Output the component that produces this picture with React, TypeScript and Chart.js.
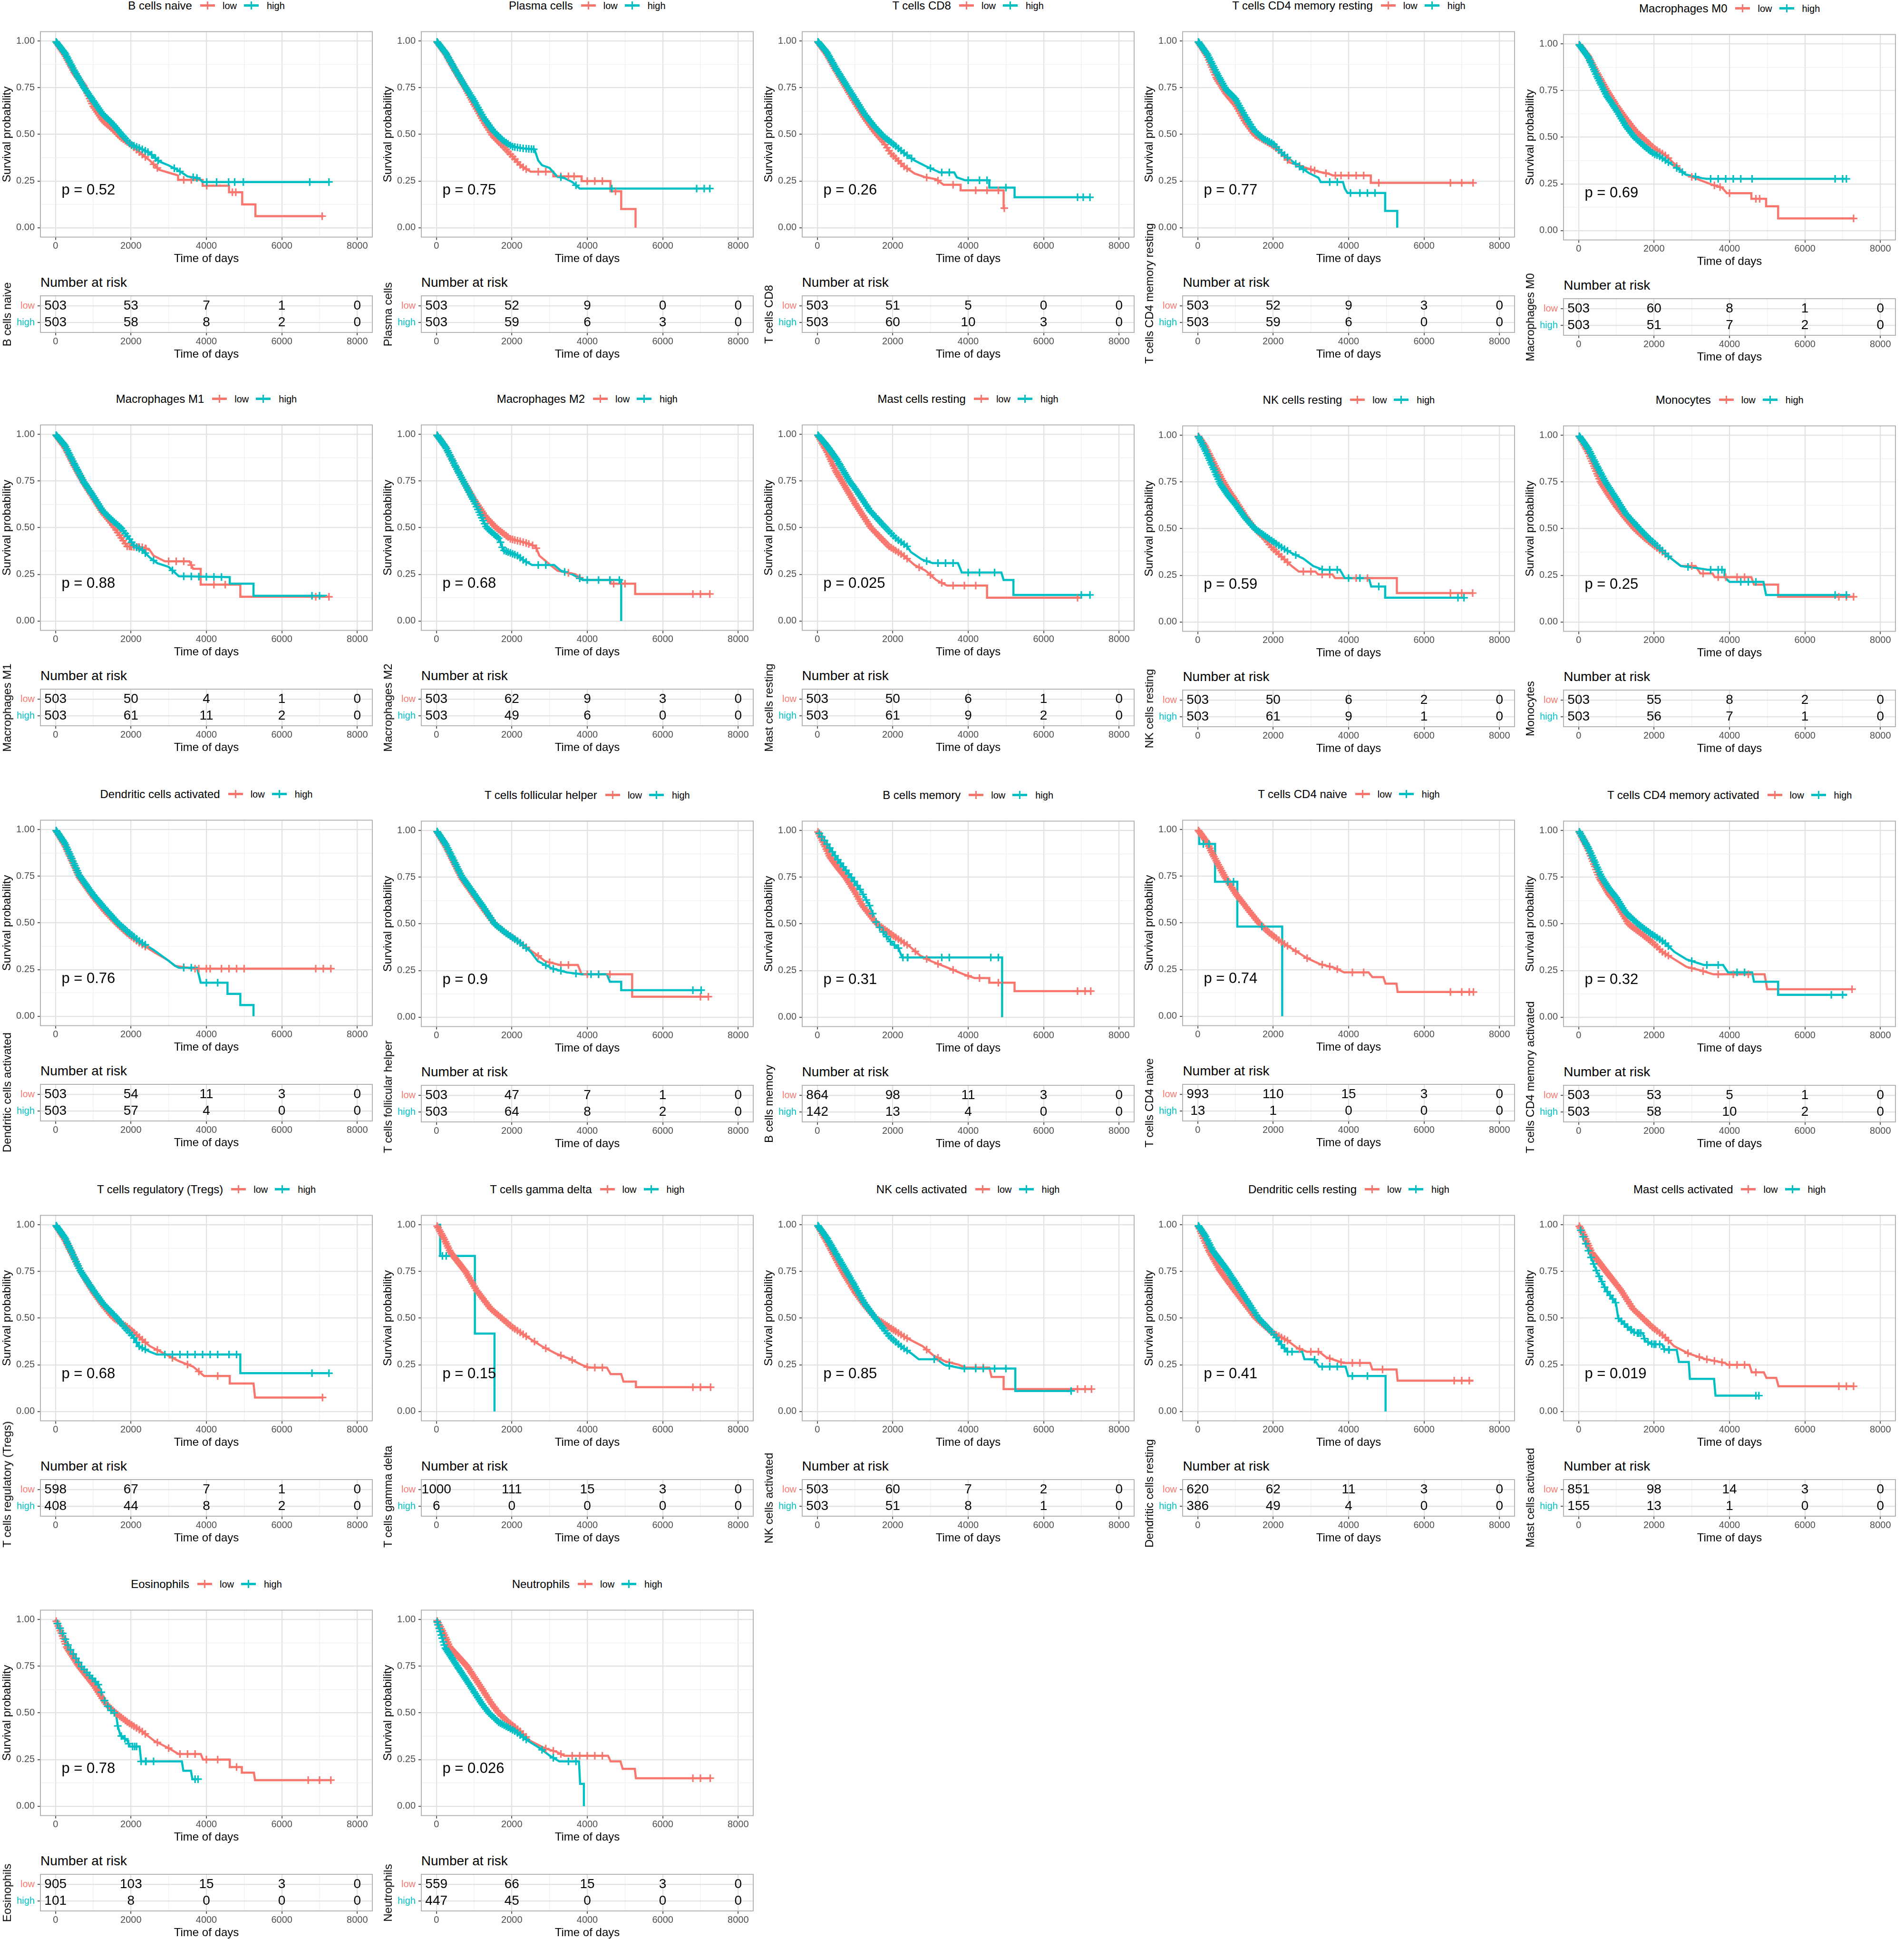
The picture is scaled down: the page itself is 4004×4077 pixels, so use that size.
import React, { useEffect, useRef } from 'react';
import { Chart, registerables } from 'chart.js';

Chart.register(...registerables);

const RED = '#F8766D';
const TEAL = '#00BFC4';
const FONT = '"Liberation Sans", Arial, Helvetica, sans-serif';
Chart.defaults.font.family = FONT;

const AXIS_TEXT = '#4d4d4d';
const TICK_COLOR = '#555555';
const GRID_MAJOR = '#e2e2e2';
const GRID_MINOR = '#efefef';
const BORDER = '#b3b3b3';
const LINE_W = 4.5;

// ---------- layout (not data) ----------
const COL_W = 800.8;
const ROW_TOPS = [0, 827, 1658, 2489, 3319];
const PANEL_DY = [0, 0, 0, 0, 6, 0, 0, 0, 2, 2, 0, 2, 2, 0, 2, 0, 0, 0, 0, 0, 0, 0];

// ---------- data ----------
const TITLES = [
  'B cells naive', 'Plasma cells', 'T cells CD8', 'T cells CD4 memory resting', 'Macrophages M0',
  'Macrophages M1', 'Macrophages M2', 'Mast cells resting', 'NK cells resting', 'Monocytes',
  'Dendritic cells activated', 'T cells follicular helper', 'B cells memory', 'T cells CD4 naive', 'T cells CD4 memory activated',
  'T cells regulatory (Tregs)', 'T cells gamma delta', 'NK cells activated', 'Dendritic cells resting', 'Mast cells activated',
  'Eosinophils', 'Neutrophils',
];
const P_VALUES = ['0.52', '0.75', '0.26', '0.77', '0.69', '0.88', '0.68', '0.025', '0.59', '0.25', '0.76', '0.9', '0.31', '0.74', '0.32', '0.68', '0.15', '0.85', '0.41', '0.019', '0.78', '0.026'];
const GROUPS = ['low', 'high'];
const RISK_TIMES = [0, 2000, 4000, 6000, 8000];
const RISK_LOW = [
  [503, 53, 7, 1, 0], [503, 52, 9, 0, 0], [503, 51, 5, 0, 0], [503, 52, 9, 3, 0], [503, 60, 8, 1, 0],
  [503, 50, 4, 1, 0], [503, 62, 9, 3, 0], [503, 50, 6, 1, 0], [503, 50, 6, 2, 0], [503, 55, 8, 2, 0],
  [503, 54, 11, 3, 0], [503, 47, 7, 1, 0], [864, 98, 11, 3, 0], [993, 110, 15, 3, 0], [503, 53, 5, 1, 0],
  [598, 67, 7, 1, 0], [1000, 111, 15, 3, 0], [503, 60, 7, 2, 0], [620, 62, 11, 3, 0], [851, 98, 14, 3, 0],
  [905, 103, 15, 3, 0], [559, 66, 15, 3, 0],
];
const RISK_HIGH = [
  [503, 58, 8, 2, 0], [503, 59, 6, 3, 0], [503, 60, 10, 3, 0], [503, 59, 6, 0, 0], [503, 51, 7, 2, 0],
  [503, 61, 11, 2, 0], [503, 49, 6, 0, 0], [503, 61, 9, 2, 0], [503, 61, 9, 1, 0], [503, 56, 7, 1, 0],
  [503, 57, 4, 0, 0], [503, 64, 8, 2, 0], [142, 13, 4, 0, 0], [13, 1, 0, 0, 0], [503, 58, 10, 2, 0],
  [408, 44, 8, 2, 0], [6, 0, 0, 0, 0], [503, 51, 8, 1, 0], [386, 49, 4, 0, 0], [155, 13, 1, 0, 0],
  [101, 8, 0, 0, 0], [447, 45, 0, 0, 0],
];
const X_TICKS = [0, 1000, 2000, 3000, 4000, 5000, 6000, 7000, 8000];
const Y_TICKS = [0, 0.125, 0.25, 0.375, 0.5, 0.625, 0.75, 0.875, 1];

// censored times forming the dense band of '+' marks in the early part of the large groups
const EARLY = [20, 45, 75, 100, 130, 155, 185, 210, 240, 265, 295, 320, 350, 375, 405, 430, 460, 490, 515, 545, 575, 600, 630, 660, 690, 720, 750, 780, 810, 840, 870, 905, 935, 965, 1000, 1030, 1065, 1100, 1135, 1170, 1205, 1240, 1280, 1315, 1355, 1395, 1435, 1475, 1520, 1560, 1605, 1650, 1700, 1745, 1795, 1850, 1900, 1960, 2020, 2080, 2150, 2220, 2300, 2380];
// sparser band for the smaller groups
const EARLY_SPARSE = [55, 120, 190, 260, 330, 400, 470, 545, 615, 690, 760, 835, 905, 980, 1060, 1135, 1215, 1300, 1385, 1470, 1560, 1650, 1745, 1840, 1940, 2045, 2150, 2270, 2390];

// Kaplan-Meier curves: [time, survival] vertices
const C01_LOW = [[0, 1], [250, 0.925], [500, 0.83], [750, 0.76], [1000, 0.65], [1250, 0.575], [1500, 0.53], [1750, 0.48], [2000, 0.445], [2250, 0.4], [2500, 0.36], [2750, 0.31], [3000, 0.295], [3250, 0.28], [3250, 0.256], [3900, 0.256], [3900, 0.225], [4600, 0.225], [4600, 0.19], [4950, 0.19], [4950, 0.125], [5300, 0.125], [5300, 0.062], [7100, 0.062]];
const C01_HIGH = [[0, 1], [250, 0.935], [500, 0.84], [750, 0.752], [1000, 0.68], [1250, 0.608], [1500, 0.56], [1750, 0.5], [2000, 0.445], [2250, 0.425], [2500, 0.4], [2750, 0.355], [3000, 0.334], [3250, 0.308], [3500, 0.275], [3800, 0.265], [3900, 0.245], [7250, 0.245]];
const K01_LOW = [...EARLY, 2600, 2700, 3400, 3600, 4010, 4690, 4780, 7070];
const K01_HIGH = [...EARLY, 2450, 2550, 2650, 2720, 3150, 3300, 3650, 3750, 4010, 4270, 4590, 4750, 4980, 6740, 7250];

const C02_LOW = [[0, 1], [250, 0.93], [500, 0.84], [750, 0.755], [1000, 0.66], [1250, 0.57], [1500, 0.49], [1750, 0.44], [2000, 0.385], [2250, 0.33], [2500, 0.3], [3100, 0.3], [3100, 0.275], [3850, 0.275], [3850, 0.25], [4615, 0.25], [4615, 0.195], [4900, 0.195], [4900, 0.1], [5280, 0.1], [5280, 0]];
const C02_HIGH = [[0, 1], [250, 0.935], [500, 0.845], [750, 0.76], [1000, 0.68], [1250, 0.59], [1500, 0.52], [1750, 0.47], [2000, 0.435], [2300, 0.425], [2600, 0.42], [2700, 0.36], [2800, 0.335], [3000, 0.32], [3200, 0.275], [3400, 0.265], [3600, 0.245], [3800, 0.21], [7250, 0.21]];
const K02_LOW = [...EARLY, 2700, 2900, 3300, 3500, 3650, 4000, 4200, 4400, 4750];
const K02_HIGH = [...EARLY, 2450, 2520, 2580, 3300, 3700, 4650, 6900, 7100, 7250];

const C03_LOW = [[0, 1], [250, 0.93], [500, 0.84], [750, 0.755], [1000, 0.67], [1250, 0.59], [1500, 0.52], [1750, 0.46], [1940, 0.4], [2290, 0.33], [2580, 0.29], [2870, 0.27], [3150, 0.26], [3350, 0.23], [3800, 0.23], [3800, 0.2], [4940, 0.2], [4940, 0.105], [4960, 0.105]];
const C03_HIGH = [[0, 1], [250, 0.94], [500, 0.85], [750, 0.77], [1000, 0.69], [1250, 0.61], [1500, 0.545], [1750, 0.49], [2000, 0.45], [2300, 0.4], [2580, 0.36], [2870, 0.33], [3250, 0.296], [3630, 0.296], [3700, 0.27], [3920, 0.254], [4560, 0.254], [4560, 0.215], [5230, 0.215], [5230, 0.163], [7230, 0.163]];
const K03_LOW = [...EARLY, 2900, 3200, 3600, 4200, 4500, 4800, 4958];
const K03_HIGH = [...EARLY, 2500, 3000, 3300, 3500, 4000, 4300, 4500, 5000, 6900, 7050, 7230];

const C04_LOW = [[0, 1], [250, 0.92], [500, 0.8], [750, 0.72], [1000, 0.66], [1250, 0.57], [1500, 0.5], [1750, 0.47], [2000, 0.44], [2230, 0.4], [2430, 0.35], [2880, 0.32], [3200, 0.3], [3450, 0.29], [3590, 0.28], [4590, 0.28], [4590, 0.24], [7300, 0.24]];
const C04_HIGH = [[0, 1], [250, 0.93], [500, 0.83], [750, 0.74], [1000, 0.69], [1250, 0.6], [1500, 0.52], [1750, 0.475], [2000, 0.45], [2230, 0.4], [2550, 0.35], [2680, 0.33], [2940, 0.294], [3200, 0.268], [3260, 0.245], [3850, 0.245], [3900, 0.21], [3970, 0.186], [4970, 0.186], [4970, 0.09], [5290, 0.09], [5290, 0]];
const K04_LOW = [...EARLY, 2700, 3000, 3100, 3400, 3650, 3800, 4000, 4200, 4400, 4800, 6700, 7000, 7300];
const K04_HIGH = [...EARLY, 2600, 2700, 2800, 3500, 3700, 4050, 4300, 4500, 4700];

const C05_LOW = [[0, 1], [250, 0.935], [500, 0.84], [750, 0.75], [1000, 0.67], [1250, 0.6], [1500, 0.535], [1680, 0.5], [2000, 0.44], [2320, 0.4], [2840, 0.3], [3480, 0.25], [3800, 0.23], [3935, 0.2], [4580, 0.2], [4580, 0.17], [4970, 0.17], [4970, 0.13], [5290, 0.13], [5290, 0.065], [7290, 0.065]];
const C05_HIGH = [[0, 1], [250, 0.93], [500, 0.82], [750, 0.72], [1000, 0.645], [1250, 0.56], [1480, 0.5], [1750, 0.45], [2000, 0.41], [2130, 0.4], [2500, 0.35], [2840, 0.3], [3290, 0.28], [3400, 0.277], [7100, 0.277]];
const K05_LOW = [...EARLY, 2600, 3000, 3600, 3750, 4000, 4700, 4800, 7290];
const K05_HIGH = [...EARLY, 2600, 2750, 3100, 3500, 3700, 3900, 4100, 4300, 4600, 6800, 7000, 7100];

const C06_LOW = [[0, 1], [250, 0.93], [500, 0.83], [750, 0.74], [1000, 0.66], [1250, 0.58], [1500, 0.52], [1730, 0.45], [1900, 0.4], [2300, 0.395], [2500, 0.38], [2600, 0.35], [2900, 0.32], [3550, 0.32], [3650, 0.28], [3850, 0.28], [3850, 0.195], [4900, 0.195], [4900, 0.13], [7250, 0.13]];
const C06_HIGH = [[0, 1], [250, 0.94], [500, 0.84], [750, 0.745], [1000, 0.67], [1250, 0.59], [1500, 0.54], [1730, 0.5], [1920, 0.45], [2100, 0.4], [2300, 0.38], [2500, 0.34], [2700, 0.31], [3000, 0.29], [3270, 0.24], [4620, 0.235], [4620, 0.2], [5250, 0.2], [5250, 0.135], [7200, 0.135]];
const K06_LOW = [...EARLY, 2000, 2200, 2400, 3000, 3200, 3400, 3600, 4200, 4500, 6900, 7250];
const K06_HIGH = [...EARLY, 2600, 3100, 3400, 3600, 3800, 4000, 4200, 4400, 6800, 7000];

const C07_LOW = [[0, 1], [250, 0.93], [500, 0.83], [710, 0.75], [1000, 0.65], [1300, 0.56], [1580, 0.5], [1960, 0.44], [2350, 0.42], [2630, 0.4], [2730, 0.35], [3020, 0.3], [3210, 0.27], [3690, 0.25], [3880, 0.22], [4620, 0.22], [4620, 0.2], [5270, 0.2], [5270, 0.145], [7250, 0.145]];
const C07_HIGH = [[0, 1], [250, 0.93], [500, 0.83], [710, 0.75], [1000, 0.64], [1330, 0.5], [1670, 0.44], [1770, 0.38], [2150, 0.35], [2350, 0.32], [2540, 0.3], [3120, 0.3], [3300, 0.27], [3600, 0.25], [3880, 0.22], [4900, 0.22], [4900, 0]];
const K07_LOW = [...EARLY, 2450, 2550, 2650, 3500, 3800, 4700, 5000, 6800, 7000, 7250];
const K07_HIGH = [...EARLY, 2700, 2900, 3400, 3800, 4000, 4300, 4600, 4850];

const C08_LOW = [[0, 1], [250, 0.91], [500, 0.8], [650, 0.75], [1000, 0.63], [1420, 0.5], [1900, 0.4], [2290, 0.35], [2580, 0.3], [2870, 0.27], [3150, 0.22], [3440, 0.19], [4500, 0.19], [4500, 0.125], [7000, 0.125]];
const C08_HIGH = [[0, 1], [250, 0.94], [500, 0.87], [850, 0.75], [1000, 0.71], [1400, 0.59], [1810, 0.5], [2100, 0.44], [2380, 0.4], [2480, 0.37], [2770, 0.33], [3060, 0.31], [3730, 0.31], [3830, 0.26], [4880, 0.26], [4940, 0.22], [5200, 0.22], [5200, 0.14], [7230, 0.14]];
const K08_LOW = [...EARLY, 2700, 3000, 3300, 3600, 3900, 4200, 6900];
const K08_HIGH = [...EARLY, 2900, 3200, 3400, 3600, 4000, 4300, 4700, 7000, 7230];

const C09_LOW = [[0, 1], [200, 0.94], [400, 0.86], [650, 0.76], [800, 0.71], [1000, 0.65], [1250, 0.57], [1510, 0.5], [1770, 0.45], [1960, 0.4], [2220, 0.35], [2490, 0.3], [2680, 0.27], [3120, 0.27], [3190, 0.255], [3570, 0.255], [3640, 0.235], [5280, 0.235], [5280, 0.155], [7290, 0.155]];
const C09_HIGH = [[0, 1], [200, 0.92], [400, 0.83], [600, 0.74], [800, 0.68], [1000, 0.63], [1250, 0.56], [1510, 0.5], [1860, 0.45], [2220, 0.4], [2480, 0.37], [2800, 0.34], [3060, 0.3], [3320, 0.28], [3770, 0.28], [3900, 0.235], [4540, 0.235], [4600, 0.19], [4970, 0.19], [4970, 0.13], [7060, 0.13]];
const K09_LOW = [...EARLY, 2800, 3000, 3300, 3500, 4200, 4500, 6700, 7000, 7290];
const K09_HIGH = [...EARLY, 2600, 3300, 3500, 3700, 4000, 4300, 4800, 6900, 7060];

const C10_LOW = [[0, 1], [250, 0.91], [580, 0.75], [800, 0.68], [1000, 0.62], [1250, 0.555], [1480, 0.5], [1750, 0.45], [2060, 0.4], [2390, 0.35], [2710, 0.3], [3100, 0.3], [3230, 0.26], [3550, 0.26], [3610, 0.24], [4580, 0.24], [4650, 0.2], [5290, 0.2], [5290, 0.135], [7290, 0.135]];
const C10_HIGH = [[0, 1], [250, 0.93], [500, 0.83], [710, 0.75], [1000, 0.66], [1250, 0.58], [1610, 0.5], [1850, 0.45], [2130, 0.4], [2390, 0.35], [2710, 0.3], [3100, 0.29], [3420, 0.28], [3870, 0.28], [3870, 0.24], [4000, 0.215], [4900, 0.215], [4970, 0.145], [7100, 0.145]];
const K10_LOW = [...EARLY, 3000, 3300, 3700, 3900, 4200, 4400, 6900, 7100, 7290];
const K10_HIGH = [...EARLY, 2900, 3500, 3700, 3800, 4300, 4500, 4700, 6800, 7100];

const C11_LOW = [[0, 1], [250, 0.915], [630, 0.745], [1000, 0.64], [1300, 0.565], [1630, 0.495], [1900, 0.445], [2210, 0.395], [2600, 0.345], [2980, 0.3], [3170, 0.27], [3650, 0.255], [7300, 0.255]];
const C11_HIGH = [[0, 1], [250, 0.925], [630, 0.755], [1000, 0.65], [1300, 0.58], [1630, 0.505], [1900, 0.455], [2210, 0.405], [2600, 0.355], [2980, 0.3], [3170, 0.27], [3270, 0.26], [3750, 0.26], [3850, 0.18], [4560, 0.18], [4560, 0.12], [4900, 0.12], [4900, 0.06], [5250, 0.06], [5250, 0]];
const K11_LOW = [...EARLY, 3400, 3700, 3800, 4000, 4100, 4400, 4600, 4800, 5000, 6900, 7100, 7300];
const K11_HIGH = [...EARLY, 3400, 3600, 4000, 4300];

const C12_LOW = [[0, 1], [250, 0.915], [670, 0.745], [1000, 0.65], [1250, 0.58], [1540, 0.5], [1850, 0.45], [2210, 0.4], [2690, 0.33], [2880, 0.3], [3270, 0.28], [3750, 0.28], [3850, 0.23], [5190, 0.23], [5190, 0.11], [7210, 0.11]];
const C12_HIGH = [[0, 1], [250, 0.925], [670, 0.755], [1000, 0.66], [1250, 0.59], [1540, 0.5], [1850, 0.45], [2210, 0.4], [2500, 0.35], [2690, 0.3], [3080, 0.26], [3460, 0.24], [3850, 0.23], [4520, 0.23], [4600, 0.19], [4900, 0.19], [4900, 0.145], [7020, 0.145]];
const K12_LOW = [...EARLY, 2700, 3000, 3300, 3500, 4000, 4300, 4600, 7000, 7210];
const K12_HIGH = [...EARLY, 2900, 3100, 3300, 3700, 4100, 4300, 6800, 7020];

const C13_LOW = [[0, 1], [150, 0.94], [330, 0.86], [550, 0.8], [750, 0.75], [1000, 0.67], [1190, 0.6], [1580, 0.5], [2060, 0.43], [2440, 0.38], [2730, 0.33], [3020, 0.3], [3400, 0.27], [3880, 0.23], [4170, 0.21], [4560, 0.21], [4560, 0.185], [5230, 0.185], [5230, 0.14], [7250, 0.14]];
const C13_HIGH = [[0, 1], [250, 0.93], [520, 0.85], [900, 0.75], [1150, 0.68], [1380, 0.6], [1580, 0.5], [1770, 0.45], [1960, 0.4], [2150, 0.37], [2250, 0.32], [4900, 0.32], [4900, 0]];
const K13_LOW = [...EARLY, 2600, 2900, 3200, 3600, 4000, 4300, 4800, 6900, 7100, 7250];
const K13_HIGH = [...EARLY_SPARSE, 2400, 3300, 3500, 4600, 4800];

const C14_LOW = [[0, 1], [250, 0.93], [390, 0.87], [710, 0.75], [1030, 0.65], [1420, 0.55], [1620, 0.5], [1880, 0.45], [2200, 0.4], [2590, 0.35], [2910, 0.31], [3230, 0.28], [3620, 0.26], [3880, 0.235], [4530, 0.235], [4630, 0.21], [4920, 0.21], [4980, 0.175], [5270, 0.175], [5300, 0.13], [7310, 0.13]];
const C14_HIGH = [[0, 1], [40, 1], [40, 0.923], [460, 0.923], [460, 0.72], [1050, 0.72], [1050, 0.48], [2240, 0.48], [2240, 0]];
const K14_LOW = [...EARLY, 2600, 2900, 3300, 3500, 3700, 4100, 4400, 6700, 7000, 7200, 7310];
const K14_HIGH = [150, 300, 800, 950, 1700];

const C15_LOW = [[0, 1], [250, 0.9], [540, 0.75], [800, 0.66], [1000, 0.61], [1320, 0.5], [1650, 0.45], [1960, 0.4], [2220, 0.35], [2540, 0.31], [2860, 0.27], [3250, 0.25], [3570, 0.23], [4930, 0.23], [5000, 0.15], [7250, 0.15]];
const C15_HIGH = [[0, 1], [250, 0.91], [610, 0.75], [800, 0.69], [1000, 0.64], [1250, 0.56], [1570, 0.5], [1900, 0.45], [2280, 0.4], [2540, 0.35], [2860, 0.31], [3320, 0.28], [3830, 0.28], [3960, 0.24], [4600, 0.24], [4650, 0.19], [5290, 0.19], [5290, 0.12], [7120, 0.12]];
const K15_LOW = [...EARLY, 3000, 3300, 3700, 4100, 4500, 7250];
const K15_HIGH = [...EARLY, 3000, 3400, 3700, 4200, 4400, 6700, 7000];

const C16_LOW = [[0, 1], [250, 0.92], [670, 0.75], [1000, 0.64], [1250, 0.57], [1540, 0.5], [1920, 0.45], [2210, 0.4], [2500, 0.35], [2980, 0.3], [3270, 0.27], [3650, 0.24], [3940, 0.19], [4620, 0.19], [4620, 0.15], [5250, 0.15], [5290, 0.075], [7080, 0.075]];
const C16_HIGH = [[0, 1], [250, 0.93], [670, 0.75], [1000, 0.65], [1250, 0.58], [1630, 0.5], [1830, 0.45], [2060, 0.4], [2210, 0.35], [2500, 0.32], [2690, 0.305], [4900, 0.305], [4900, 0.205], [7250, 0.205]];
const K16_LOW = [...EARLY, 2700, 3100, 3500, 3800, 4300, 7080];
const K16_HIGH = [...EARLY, 2900, 3100, 3300, 3500, 3700, 3900, 4100, 4300, 4600, 4800, 6800, 7250];

const C17_LOW = [[0, 1], [190, 0.93], [380, 0.85], [770, 0.75], [1060, 0.65], [1440, 0.55], [1730, 0.5], [2020, 0.45], [2400, 0.4], [2790, 0.35], [3170, 0.31], [3560, 0.28], [3850, 0.25], [4040, 0.235], [4520, 0.235], [4620, 0.2], [4900, 0.2], [4960, 0.16], [5290, 0.16], [5290, 0.13], [7270, 0.13]];
const C17_HIGH = [[0, 1], [100, 1], [100, 0.833], [1020, 0.833], [1020, 0.417], [1540, 0.417], [1540, 0]];
const K17_LOW = [...EARLY, 2600, 2900, 3300, 3600, 4000, 4200, 4400, 6800, 7000, 7270];
const K17_HIGH = [160, 260];

const C18_LOW = [[0, 1], [250, 0.91], [670, 0.75], [1000, 0.64], [1250, 0.57], [1540, 0.5], [1920, 0.45], [2310, 0.4], [2790, 0.35], [3080, 0.3], [3370, 0.27], [3750, 0.25], [3940, 0.235], [4560, 0.235], [4620, 0.185], [4940, 0.185], [4940, 0.12], [7270, 0.12]];
const C18_HIGH = [[0, 1], [250, 0.93], [770, 0.75], [1000, 0.67], [1250, 0.58], [1540, 0.5], [1730, 0.45], [1920, 0.4], [2210, 0.35], [2500, 0.31], [2690, 0.28], [3170, 0.28], [3370, 0.25], [3850, 0.23], [5250, 0.23], [5250, 0.11], [6730, 0.11]];
const K18_LOW = [...EARLY, 2900, 3200, 3500, 4200, 4400, 6900, 7100, 7270];
const K18_HIGH = [...EARLY, 3100, 3500, 3900, 4200, 4400, 4700, 5000, 6730];

const C19_LOW = [[0, 1], [150, 0.93], [300, 0.86], [580, 0.76], [900, 0.67], [1160, 0.6], [1540, 0.5], [1990, 0.42], [2380, 0.38], [2640, 0.34], [2890, 0.32], [3220, 0.32], [3410, 0.29], [3860, 0.26], [4570, 0.26], [4630, 0.225], [5270, 0.225], [5300, 0.165], [7310, 0.165]];
const C19_HIGH = [[0, 1], [200, 0.94], [400, 0.86], [770, 0.76], [1000, 0.69], [1290, 0.6], [1610, 0.5], [1990, 0.42], [2250, 0.35], [2380, 0.32], [2770, 0.32], [2830, 0.28], [3090, 0.28], [3220, 0.24], [3920, 0.24], [3990, 0.19], [4980, 0.19], [4980, 0]];
const K19_LOW = [...EARLY, 2700, 3000, 3200, 3500, 3800, 4100, 4300, 4900, 6800, 7000, 7200];
const K19_HIGH = [...EARLY, 2500, 3100, 3300, 3500, 3700, 4100, 4500];

const C20_LOW = [[0, 1], [150, 0.94], [350, 0.85], [730, 0.75], [1120, 0.65], [1440, 0.55], [1700, 0.5], [1960, 0.45], [2280, 0.4], [2530, 0.35], [2920, 0.31], [3370, 0.28], [3880, 0.26], [3950, 0.25], [4530, 0.25], [4590, 0.21], [4910, 0.21], [4980, 0.18], [5240, 0.18], [5300, 0.135], [7290, 0.135]];
const C20_HIGH = [[0, 1], [130, 0.93], [280, 0.85], [480, 0.75], [730, 0.65], [990, 0.58], [1050, 0.5], [1310, 0.45], [1500, 0.42], [1700, 0.42], [1760, 0.38], [1960, 0.36], [2210, 0.36], [2280, 0.33], [2600, 0.33], [2660, 0.265], [2920, 0.265], [2950, 0.175], [3590, 0.175], [3630, 0.085], [4780, 0.085]];
const K20_LOW = [...EARLY, 2900, 3200, 3400, 3600, 3800, 4000, 4200, 4400, 4700, 6900, 7100, 7290];
const K20_HIGH = [...EARLY_SPARSE, 1400, 1600, 2000, 2400, 4700, 4780];

const C21_LOW = [[0, 1], [150, 0.93], [300, 0.85], [620, 0.75], [1010, 0.65], [1330, 0.55], [1590, 0.5], [1910, 0.45], [2300, 0.4], [2620, 0.35], [3010, 0.31], [3260, 0.28], [3850, 0.28], [3910, 0.25], [4620, 0.25], [4620, 0.21], [4940, 0.21], [4940, 0.18], [5260, 0.18], [5290, 0.14], [7300, 0.14]];
const C21_HIGH = [[0, 1], [180, 0.93], [360, 0.85], [680, 0.75], [1140, 0.65], [1330, 0.55], [1520, 0.5], [1600, 0.5], [1650, 0.43], [1720, 0.38], [1910, 0.35], [1970, 0.32], [2230, 0.32], [2270, 0.24], [3350, 0.24], [3390, 0.19], [3590, 0.19], [3630, 0.145], [3780, 0.145]];
const K21_LOW = [...EARLY, 2700, 3000, 3300, 3500, 3700, 4000, 4300, 4800, 6700, 7000, 7300];
const K21_HIGH = [...EARLY_SPARSE, 2100, 2400, 2600, 3700, 3780];

const C22_LOW = [[0, 1], [180, 0.93], [360, 0.85], [810, 0.75], [1140, 0.65], [1460, 0.55], [1650, 0.5], [1910, 0.45], [2230, 0.4], [2490, 0.35], [2880, 0.31], [3200, 0.29], [3390, 0.27], [4550, 0.27], [4620, 0.24], [4880, 0.24], [4940, 0.2], [5260, 0.2], [5290, 0.15], [7260, 0.15]];
const C22_HIGH = [[0, 1], [110, 0.93], [230, 0.85], [550, 0.75], [880, 0.65], [1200, 0.55], [1390, 0.5], [1650, 0.45], [2100, 0.4], [2430, 0.35], [2750, 0.31], [3010, 0.27], [3260, 0.24], [3780, 0.24], [3810, 0.12], [3910, 0.12], [3910, 0]];
const K22_LOW = [...EARLY, 2900, 3100, 3300, 3600, 3800, 4000, 4200, 4400, 6800, 7000, 7260];
const K22_HIGH = [...EARLY, 2800, 3100, 3500, 3700];

const CURVES_LOW = [C01_LOW, C02_LOW, C03_LOW, C04_LOW, C05_LOW, C06_LOW, C07_LOW, C08_LOW, C09_LOW, C10_LOW, C11_LOW, C12_LOW, C13_LOW, C14_LOW, C15_LOW, C16_LOW, C17_LOW, C18_LOW, C19_LOW, C20_LOW, C21_LOW, C22_LOW];
const CURVES_HIGH = [C01_HIGH, C02_HIGH, C03_HIGH, C04_HIGH, C05_HIGH, C06_HIGH, C07_HIGH, C08_HIGH, C09_HIGH, C10_HIGH, C11_HIGH, C12_HIGH, C13_HIGH, C14_HIGH, C15_HIGH, C16_HIGH, C17_HIGH, C18_HIGH, C19_HIGH, C20_HIGH, C21_HIGH, C22_HIGH];
const CENS_LOW = [K01_LOW, K02_LOW, K03_LOW, K04_LOW, K05_LOW, K06_LOW, K07_LOW, K08_LOW, K09_LOW, K10_LOW, K11_LOW, K12_LOW, K13_LOW, K14_LOW, K15_LOW, K16_LOW, K17_LOW, K18_LOW, K19_LOW, K20_LOW, K21_LOW, K22_LOW];
const CENS_HIGH = [K01_HIGH, K02_HIGH, K03_HIGH, K04_HIGH, K05_HIGH, K06_HIGH, K07_HIGH, K08_HIGH, K09_HIGH, K10_HIGH, K11_HIGH, K12_HIGH, K13_HIGH, K14_HIGH, K15_HIGH, K16_HIGH, K17_HIGH, K18_HIGH, K19_HIGH, K20_HIGH, K21_HIGH, K22_HIGH];

// ---------- helpers ----------
function valueOn(curve: number[][], t: number) {
  for (let k = 0; k < curve.length - 1; k++) {
    const [x0, y0] = curve[k];
    const [x1, y1] = curve[k + 1];
    if (x1 > x0 && t >= x0 && t <= x1) return y0 + ((y1 - y0) * (t - x0)) / (x1 - x0);
  }
  return null;
}

function censorPoints(curve: number[][], times: number[]) {
  const end = curve[curve.length - 1][0];
  const out: any[] = [];
  for (const t of times) {
    if (t > end) continue;
    const y = valueOn(curve, t);
    if (y !== null) out.push({ x: t, y });
  }
  return out;
}

let measureCtx: any = null;
function textWidth(text: string, font: string) {
  if (!measureCtx) measureCtx = document.createElement('canvas').getContext('2d');
  measureCtx.font = font;
  return measureCtx.measureText(text).width;
}

const isMajorX = (v: number) => v % 2000 === 0;
const isMajorY = (v: number) => Math.abs(v * 4 - Math.round(v * 4)) < 1e-6;

const boxPlugin = {
  id: 'panelBox',
  afterDatasetsDraw(chart: any) {
    const { ctx, chartArea: a } = chart;
    ctx.save();
    ctx.strokeStyle = BORDER;
    ctx.lineWidth = 2;
    ctx.strokeRect(a.left, a.top, a.right - a.left, a.bottom - a.top);
    ctx.restore();
  },
};

function pValuePlugin(text: string) {
  return {
    id: 'pValue',
    afterDatasetsDraw(chart: any) {
      const { ctx, scales } = chart;
      ctx.save();
      ctx.font = `31px ${FONT}`;
      ctx.fillStyle = '#000';
      ctx.textAlign = 'left';
      ctx.textBaseline = 'middle';
      ctx.fillText(`p = ${text}`, scales.x.getPixelForValue(160), scales.y.getPixelForValue(0.2));
      ctx.restore();
    },
  };
}

function riskPlugin(low: number[], high: number[]) {
  return {
    id: 'riskNumbers',
    afterDatasetsDraw(chart: any) {
      const { ctx, scales } = chart;
      ctx.save();
      ctx.font = `28px ${FONT}`;
      ctx.fillStyle = '#000';
      ctx.textAlign = 'center';
      ctx.textBaseline = 'middle';
      RISK_TIMES.forEach((t, k) => {
        ctx.fillText(String(low[k]), scales.x.getPixelForValue(t), scales.y.getPixelForValue(2));
        ctx.fillText(String(high[k]), scales.x.getPixelForValue(t), scales.y.getPixelForValue(1));
      });
      ctx.restore();
    },
  };
}

function xAxis(height: number, titlePad: number) {
  return {
    type: 'linear',
    min: -400,
    max: 8400,
    afterBuildTicks: (s: any) => {
      s.ticks = X_TICKS.map((v) => ({ value: v }));
    },
    afterFit: (s: any) => {
      s.height = height;
    },
    ticks: {
      autoSkip: false,
      maxRotation: 0,
      minRotation: 0,
      padding: 1,
      color: AXIS_TEXT,
      font: { family: FONT, size: 20 },
      callback: (v: any) => (isMajorX(v) ? String(v) : ''),
    },
    grid: {
      color: (c: any) => (c.tick && isMajorX(c.tick.value) ? GRID_MAJOR : GRID_MINOR),
      lineWidth: (c: any) => (c.tick && isMajorX(c.tick.value) ? 2.2 : 1.3),
      drawTicks: true,
      tickLength: 6,
      tickWidth: 2,
      tickColor: (c: any) => (c.tick && isMajorX(c.tick.value) ? TICK_COLOR : 'rgba(0,0,0,0)'),
    },
    border: { display: false },
    title: {
      display: true,
      text: 'Time of days',
      color: '#000',
      font: { family: FONT, size: 24 },
      padding: { top: 0, bottom: titlePad },
    },
  };
}

function survivalConfig(i: number): any {
  const low = CURVES_LOW[i];
  const high = CURVES_HIGH[i];
  const pts = (c: number[][]) => c.map(([x, y]) => ({ x, y }));
  const cross = (color: string, data: any[], order: number) => ({
    data,
    showLine: false,
    pointStyle: 'cross',
    pointRadius: 8,
    pointHoverRadius: 8,
    pointBorderWidth: 3.2,
    pointBorderColor: color,
    pointBackgroundColor: color,
    order,
  });
  const line = (color: string, data: any[], order: number) => ({
    data,
    showLine: true,
    borderColor: color,
    borderWidth: LINE_W,
    borderJoinStyle: 'miter',
    pointRadius: 0,
    pointHoverRadius: 0,
    fill: false,
    tension: 0,
    order,
  });
  return {
    type: 'scatter',
    data: {
      datasets: [
        line(RED, pts(low), 4),
        line(TEAL, pts(high), 3),
        cross(RED, censorPoints(low, CENS_LOW[i]), 2),
        cross(TEAL, censorPoints(high, CENS_HIGH[i]), 1),
      ],
    },
    options: {
      animation: false,
      responsive: false,
      devicePixelRatio: 1,
      events: [],
      layout: { padding: { left: 0, right: 17, top: 26.5, bottom: 0 }, autoPadding: false },
      plugins: { legend: { display: false }, tooltip: { enabled: false }, title: { display: false } },
      scales: {
        x: xAxis(71.5, 11.6),
        y: {
          type: 'linear',
          min: -0.05,
          max: 1.05,
          afterBuildTicks: (s: any) => {
            s.ticks = Y_TICKS.map((v) => ({ value: v }));
          },
          afterFit: (s: any) => {
            s.width = 85;
          },
          ticks: {
            autoSkip: false,
            padding: 6,
            color: AXIS_TEXT,
            font: { family: FONT, size: 20 },
            callback: (v: any) => (isMajorY(v) ? Number(v).toFixed(2) : ''),
          },
          grid: {
            color: (c: any) => (c.tick && isMajorY(c.tick.value) ? GRID_MAJOR : GRID_MINOR),
            lineWidth: (c: any) => (c.tick && isMajorY(c.tick.value) ? 2.2 : 1.3),
            drawTicks: true,
            tickLength: 6,
            tickWidth: 2,
            tickColor: (c: any) => (c.tick && isMajorY(c.tick.value) ? TICK_COLOR : 'rgba(0,0,0,0)'),
          },
          border: { display: false },
          title: {
            display: true,
            text: 'Survival probability',
            color: '#000',
            font: { family: FONT, size: 24 },
            padding: { top: 1, bottom: 0 },
          },
        },
      },
    },
    plugins: [boxPlugin, pValuePlugin(P_VALUES[i])],
  };
}

function riskConfig(i: number): any {
  return {
    type: 'scatter',
    data: { datasets: [] },
    options: {
      animation: false,
      responsive: false,
      devicePixelRatio: 1,
      events: [],
      layout: { padding: { left: 0, right: 17, top: 22, bottom: 0 }, autoPadding: false },
      plugins: { legend: { display: false }, tooltip: { enabled: false }, title: { display: false } },
      scales: {
        x: xAxis(66, 5.6),
        y: {
          type: 'linear',
          min: 0.4,
          max: 2.6,
          afterBuildTicks: (s: any) => {
            s.ticks = [1, 2].map((v) => ({ value: v }));
          },
          afterFit: (s: any) => {
            s.width = 85;
          },
          ticks: {
            autoSkip: false,
            padding: 6,
            color: (c: any) => (c.tick && c.tick.value === 2 ? RED : TEAL),
            font: { family: FONT, size: 20 },
            callback: (v: any) => (v === 2 ? GROUPS[0] : v === 1 ? GROUPS[1] : ''),
          },
          grid: {
            color: GRID_MAJOR,
            lineWidth: 2.2,
            drawTicks: true,
            tickLength: 6,
            tickWidth: 2,
            tickColor: TICK_COLOR,
          },
          border: { display: false },
          title: { display: false },
        },
      },
    },
    plugins: [boxPlugin, riskPlugin(RISK_LOW[i], RISK_HIGH[i])],
  };
}

function LegendKey({ color, ml }: { color: string; ml: number }) {
  return (
    <div style={{ position: 'relative', width: 31, height: 17, marginLeft: ml, flex: '0 0 auto' }}>
      <div style={{ position: 'absolute', left: 0, top: 6.25, width: 31, height: 4.5, background: color }} />
      <div style={{ position: 'absolute', left: 14, top: 0, width: 3, height: 17, background: color }} />
    </div>
  );
}

function Panel({ i }: { i: number }) {
  const survRef = useRef<HTMLCanvasElement>(null);
  const riskRef = useRef<HTMLCanvasElement>(null);
  useEffect(() => {
    const c1 = new Chart(survRef.current as any, survivalConfig(i));
    const c2 = new Chart(riskRef.current as any, riskConfig(i));
    return () => {
      c1.destroy();
      c2.destroy();
    };
  }, [i]);

  const col = i % 5;
  const row = Math.floor(i / 5);
  const left = col * COL_W;
  const top = ROW_TOPS[row] + PANEL_DY[i];
  const labelLen = textWidth(TITLES[i], `24px ${FONT}`);
  const labelCy = Math.min(660.5, 765 - labelLen / 2);

  return (
    <div style={{ position: 'absolute', left, top, width: 801, height: 830 }}>
      <div
        style={{
          position: 'absolute', left: 85, top: -0.5, width: 698, height: 24,
          display: 'flex', justifyContent: 'center', alignItems: 'center',
          whiteSpace: 'nowrap', fontFamily: FONT, color: '#000',
        }}
      >
        <span style={{ fontSize: 24, lineHeight: '24px' }}>{TITLES[i]}</span>
        <LegendKey color={RED} ml={17} />
        <span style={{ fontSize: 20, lineHeight: '20px', marginLeft: 16 }}>{GROUPS[0]}</span>
        <LegendKey color={TEAL} ml={15} />
        <span style={{ fontSize: 20, lineHeight: '20px', marginLeft: 17 }}>{GROUPS[1]}</span>
      </div>
      <canvas ref={survRef} width={800} height={530} style={{ position: 'absolute', left: 0, top: 40, width: 800, height: 530 }} />
      <div style={{ position: 'absolute', left: 85, top: 579.5, fontFamily: FONT, fontSize: 28, lineHeight: '28px', color: '#000', whiteSpace: 'nowrap' }}>
        Number at risk
      </div>
      <canvas ref={riskRef} width={800} height={165} style={{ position: 'absolute', left: 0, top: 600, width: 800, height: 165 }} />
      <div
        style={{
          position: 'absolute', left: 15, top: labelCy, fontFamily: FONT, fontSize: 24, lineHeight: '24px',
          color: '#000', whiteSpace: 'nowrap', transform: 'translate(-50%, -50%) rotate(-90deg)',
        }}
      >
        {TITLES[i]}
      </div>
    </div>
  );
}

export default function App() {
  return (
    <div style={{ position: 'absolute', left: 0, top: 0, width: 4004, height: 4077, background: '#fff', overflow: 'hidden' }}>
      {TITLES.map((_, i) => (
        <Panel key={i} i={i} />
      ))}
    </div>
  );
}
